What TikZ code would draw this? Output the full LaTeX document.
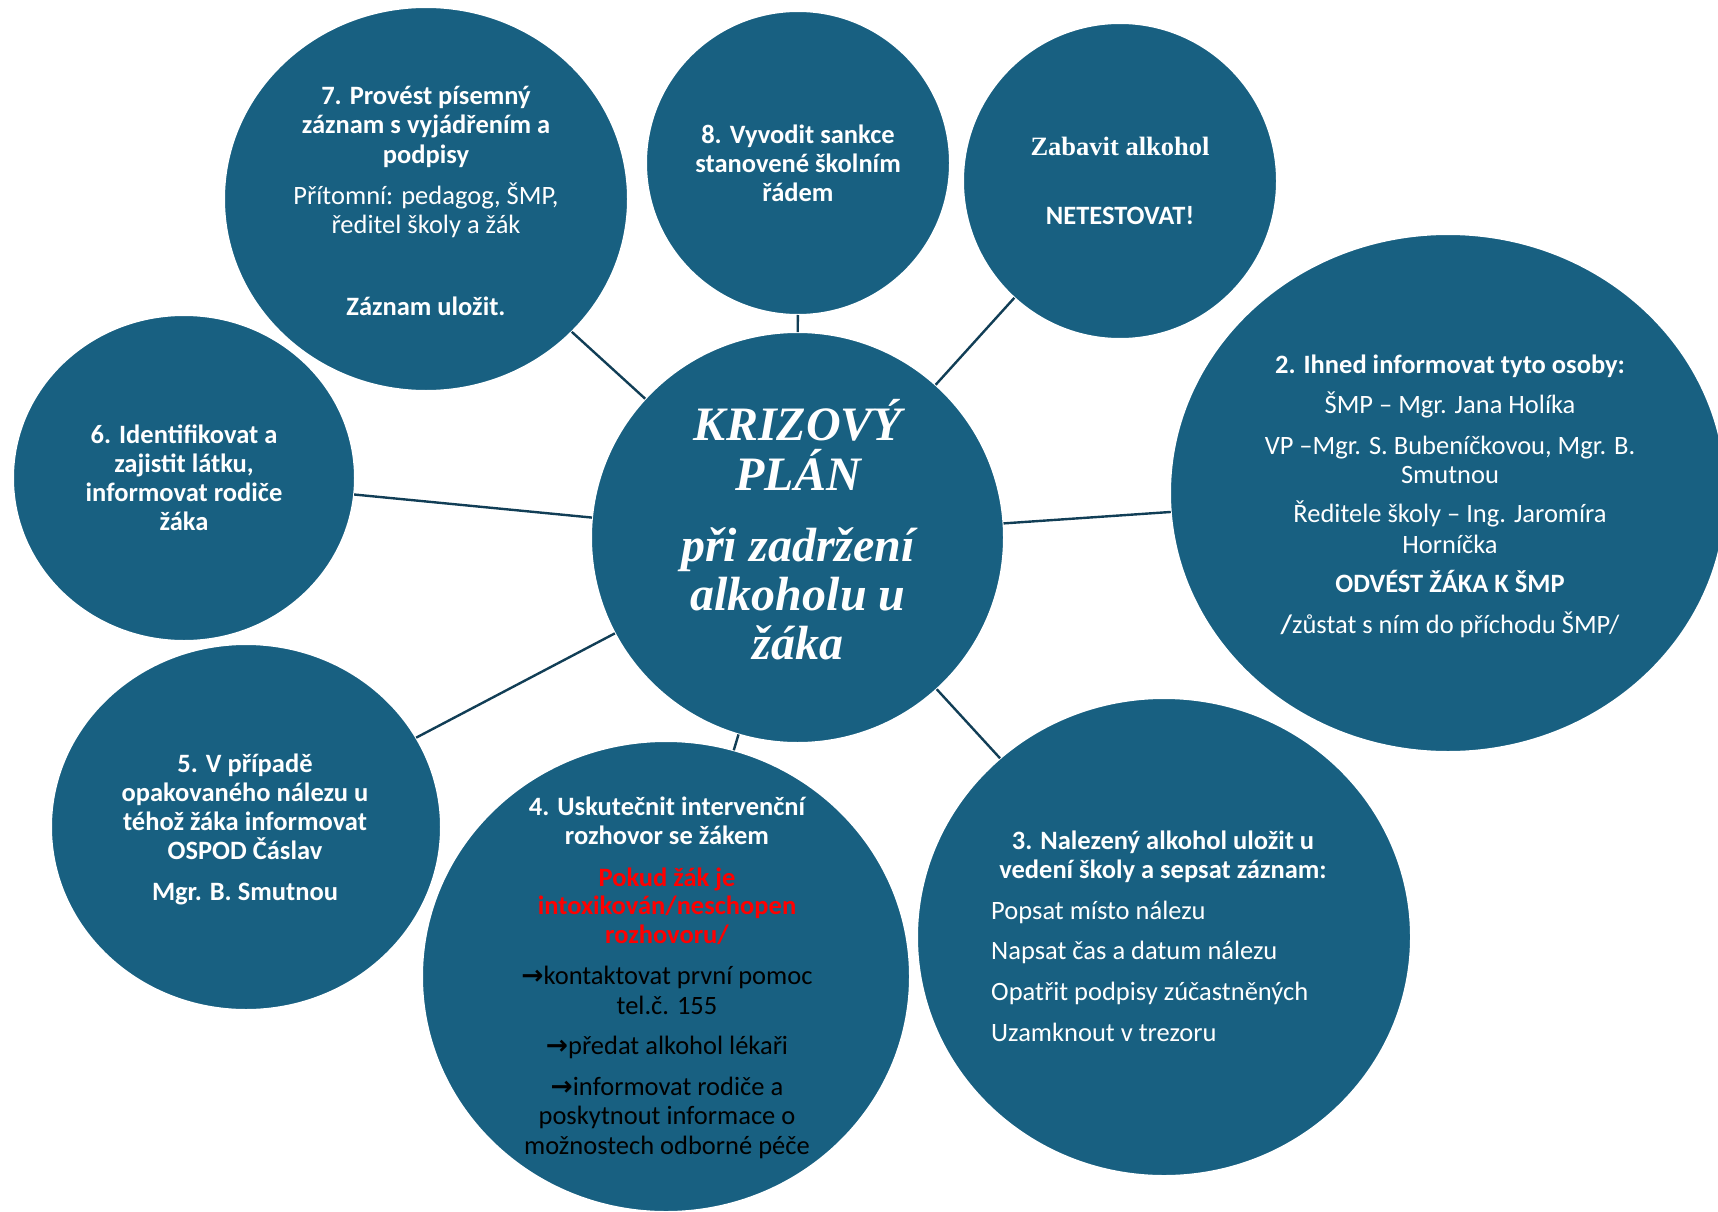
\documentclass[tikz,border=0pt]{standalone}
\usepackage{fontspec}
\setmainfont{Carlito}
\newfontfamily\tnrfont{Liberation Serif}
\newfontfamily\arrfont{DejaVu Sans}
\usetikzlibrary{shapes.geometric}
\definecolor{bubble}{RGB}{24,96,129}
\definecolor{linkc}{RGB}{17,62,86}
\definecolor{alert}{RGB}{255,0,0}
\newcommand\myarrow{{\arrfont\bfseries →}}
\tikzset{
  bub/.style={ellipse, fill=bubble, draw=white, line width=2pt, inner sep=0pt, outer sep=0pt},
  conn/.style={draw=linkc, line width=2.4pt},
  tl/.style={anchor=base, text=white, inner sep=0pt, font=\fontsize{26.5}{30}\selectfont},
  tb/.style={anchor=base, text=white, inner sep=0pt, font=\fontsize{26.5}{30}\selectfont\bfseries},
  tw/.style={anchor=base west, text=white, inner sep=0pt, font=\fontsize{26.5}{30}\selectfont},
  tred/.style={anchor=base, text=alert, inner sep=0pt, font=\fontsize{26.5}{30}\selectfont\bfseries},
  tblk/.style={anchor=base, text=black, inner sep=0pt, font=\fontsize{26.5}{30}\selectfont},
  ttimes/.style={anchor=base, text=white, inner sep=0pt, font=\tnrfont\fontsize{26.5}{30}\selectfont\bfseries},
  big/.style={anchor=base, text=white, inner sep=0pt, font=\tnrfont\fontsize{48}{52}\selectfont\bfseries\itshape},
}
\begin{document}
\begin{tikzpicture}[x=1pt,y=-1pt]
\useasboundingbox (0,0) rectangle (1718,1212);
% bubbles
\node[bub, minimum width=404pt, minimum height=384pt] (c7) at (426,199) {};
\node[bub, minimum width=342pt, minimum height=326pt] (c6) at (184,478) {};
\node[bub, minimum width=304pt, minimum height=304pt] (c8) at (798,163) {};
\node[bub, minimum width=314pt, minimum height=316pt] (c1) at (1120,181) {};
\node[bub, minimum width=556pt, minimum height=518pt] (c2) at (1448,493) {};
\node[bub, minimum width=390pt, minimum height=366pt] (c5) at (246,827) {};
\node[bub, minimum width=494pt, minimum height=478pt] (c3) at (1164,937) {};
\node[bub, minimum width=488pt, minimum height=471pt] (c4) at (666,976.5) {};
\node[bub, minimum width=413pt, minimum height=411pt] (ctr) at (797.5,537.5) {};
% connectors
\draw[conn] (c7) -- (ctr);
\draw[conn] (c8) -- (ctr);
\draw[conn] (c1) -- (ctr);
\draw[conn] (c2) -- (ctr);
\draw[conn] (c3) -- (ctr);
\draw[conn] (c4) -- (ctr);
\draw[conn] (c5) -- (ctr);
\draw[conn] (c6) -- (ctr);
% centre text
\node[big] (k1) at (798,440) {KRIZOVÝ};
\node[big] (k2) at (798,490) {PLÁN};
\node[big] (k3) at (798,561) {při zadržení};
\node[big] (k4) at (798,610) {alkoholu u};
\node[big] (k5) at (798,659) {žáka};
% 7
\node[tb] (t7a) at (426,105) {7. Provést písemný};
\node[tb] (t7b) at (426,134) {záznam s vyjádřením a};
\node[tb] (t7c) at (426,163) {podpisy};
\node[tl] (t7d) at (426,204) {Přítomní: pedagog, ŠMP,};
\node[tl] (t7e) at (426,233) {ředitel školy a žák};
\node[tb] (t7f) at (426,315) {Záznam uložit.};
% 8
\node[tb] (t8a) at (798,143) {8. Vyvodit sankce};
\node[tb] (t8b) at (798,172) {stanovené školním};
\node[tb] (t8c) at (798,201) {řádem};
% 1
\node[ttimes] (t1a) at (1120,156) {Zabavit alkohol};
\node[tb] (t1b) at (1120,224) {NETESTOVAT!};
% 2
\node[tb] (t2a) at (1450,373) {2. Ihned informovat tyto osoby:};
\node[tl] (t2b) at (1450,413) {ŠMP – Mgr. Jana Holíka};
\node[tl] (t2c) at (1450,454) {VP –Mgr. S. Bubeníčkovou, Mgr. B.};
\node[tl] (t2d) at (1450,483) {Smutnou};
\node[tl] (t2e) at (1450,522) {Ředitele školy – Ing. Jaromíra};
\node[tl] (t2f) at (1450,553) {Horníčka};
\node[tb] (t2g) at (1450,592) {ODVÉST ŽÁKA K ŠMP};
\node[tl] (t2h) at (1450,633) {{\bfseries /}zůstat s ním do příchodu ŠMP/};
% 3
\node[tb] (t3a) at (1163,849) {3. Nalezený alkohol uložit u};
\node[tb] (t3b) at (1163,878) {vedení školy a sepsat záznam:};
\node[tw] (t3c) at (991,919) {Popsat místo nálezu};
\node[tw] (t3d) at (991,959) {Napsat čas a datum nálezu};
\node[tw] (t3e) at (991,1000) {Opatřit podpisy zúčastněných};
\node[tw] (t3f) at (991,1041) {Uzamknout v trezoru};
% 4
\node[tb] (t4a) at (667,815) {4. Uskutečnit intervenční};
\node[tb] (t4b) at (667,844) {rozhovor se žákem};
\node[tred] (t4c) at (667,886) {Pokud žák je};
\node[tred] (t4d) at (667,914) {intoxikován/neschopen};
\node[tred] (t4e) at (667,943) {rozhovoru/};
\node[tblk] (t4f) at (667,984) {\myarrow kontaktovat první pomoc};
\node[tblk] (t4g) at (667,1014) {tel.č. 155};
\node[tblk] (t4h) at (667,1054) {\myarrow předat alkohol lékaři};
\node[tblk] (t4i) at (667,1095) {\myarrow informovat rodiče a};
\node[tblk] (t4j) at (667,1124) {poskytnout informace o};
\node[tblk] (t4k) at (667,1154) {možnostech odborné péče};
% 5
\node[tb] (t5a) at (245,772) {5. V případě};
\node[tb] (t5b) at (245,801) {opakovaného nálezu u};
\node[tb] (t5c) at (245,830) {téhož žáka informovat};
\node[tb] (t5d) at (245,859) {OSPOD Čáslav};
\node[tb] (t5e) at (245,900) {Mgr. B. Smutnou};
% 6
\node[tb] (t6a) at (184,443) {6. Identifikovat a};
\node[tb] (t6b) at (184,472) {zajistit látku,};
\node[tb] (t6c) at (184,501) {informovat rodiče};
\node[tb] (t6d) at (184,530) {žáka};
\end{tikzpicture}
\end{document}
